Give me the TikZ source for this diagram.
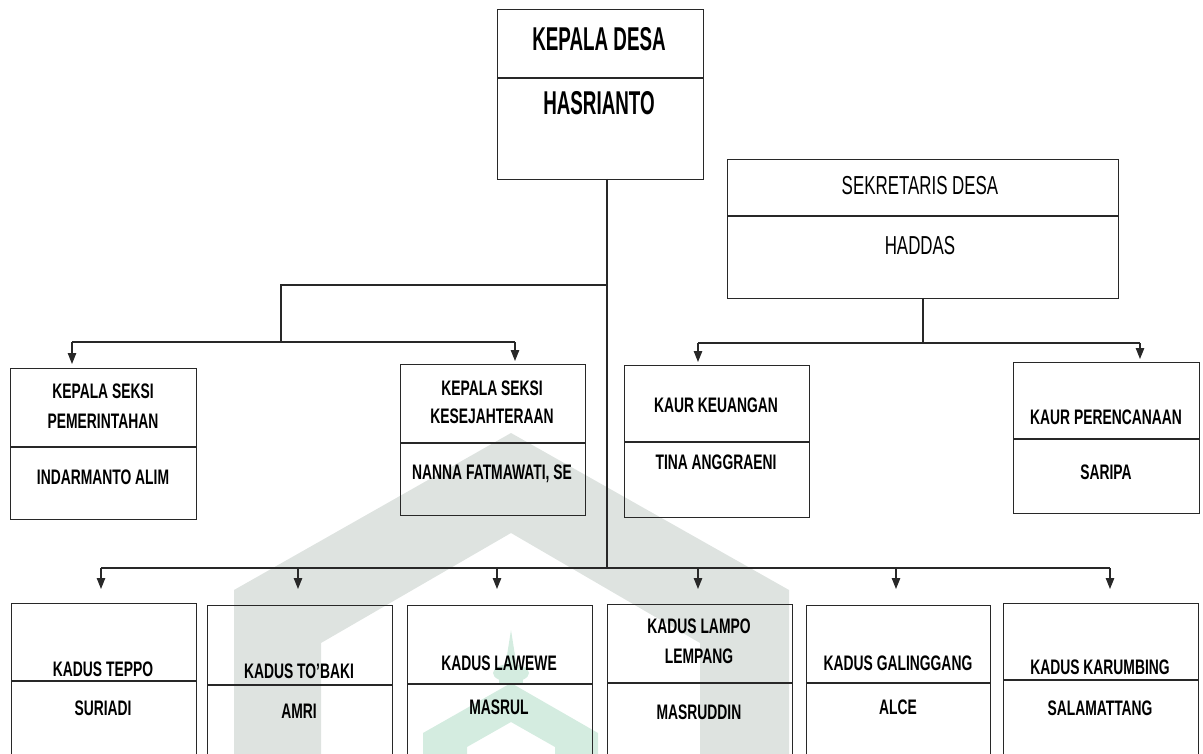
\documentclass[tikz,border=0pt]{standalone}
\usepackage{fontspec}
\newfontfamily\cond[FakeStretch=0.66]{Liberation Sans}
\newfontfamily\condbig[FakeStretch=0.57]{Liberation Sans}
\newfontfamily\condreg[FakeStretch=0.65]{Liberation Sans}
\usetikzlibrary{arrows.meta}
\definecolor{wmgray}{RGB}{222,227,224}
\definecolor{wmgreen}{RGB}{212,236,224}
\definecolor{ln}{RGB}{40,40,40}
\begin{document}
\begin{tikzpicture}[x=1pt,y=-1pt,
  box/.style={draw=ln, line width=1.1pt, inner sep=0pt, anchor=north west},
  lbl/.style={font=\cond\bfseries\fontsize{21}{23}\selectfont, text height=15pt, text depth=0pt, inner sep=0pt},
  big/.style={font=\condbig\bfseries\fontsize{33}{36}\selectfont, text height=23.6pt, text depth=0pt, inner sep=0pt},
  reg/.style={font=\condreg\fontsize{26}{28}\selectfont, text height=18.6pt, text depth=0pt, inner sep=0pt},
  conn/.style={draw=ln, line width=1.1pt},
  arr/.style={conn, -{Triangle[length=11pt,width=8.5pt]}},
  divider/.style={draw=ln, line width=1.1pt}
]
\useasboundingbox (0,0) rectangle (1203,754);
\clip (0,0) rectangle (1203,754);

% watermark
\fill[wmgray] (234,760) -- (234,590) -- (511,433) -- (789,590) -- (789,760) -- (700,760)
  -- (700,643) -- (511,533) -- (321,643) -- (321,760) -- cycle;
\fill[wmgreen] (423,760) -- (423,733) -- (511,683) -- (598,733) -- (598,760) -- (555,760)
  -- (555,747) -- (511,722) -- (467,747) -- (467,760) -- cycle;
\fill[wmgreen] (511,673) ellipse [x radius=18, y radius=9];
\fill[wmgreen] (505,668) -- (511,630) -- (517,668) -- cycle;
\fill[wmgreen] (499,673) rectangle (523,684);

% boxes
\node[box, minimum width=206pt, minimum height=170pt] (kd) at (497,9) {};
\node[box, minimum width=391pt, minimum height=139pt] (sd) at (727,159) {};
\node[box, minimum width=186pt, minimum height=151pt] (ksp) at (10,368) {};
\node[box, minimum width=185pt, minimum height=151pt] (kss) at (400,364) {};
\node[box, minimum width=185pt, minimum height=152pt] (kk) at (624,365) {};
\node[box, minimum width=186pt, minimum height=151pt] (kp) at (1013,362) {};
\node[box, minimum width=185pt, minimum height=200pt] (d1) at (11,603) {};
\node[box, minimum width=185pt, minimum height=200pt] (d2) at (207,605) {};
\node[box, minimum width=185pt, minimum height=200pt] (d3) at (407,605) {};
\node[box, minimum width=185pt, minimum height=200pt] (d4) at (607,604) {};
\node[box, minimum width=184pt, minimum height=200pt] (d5) at (806,605) {};
\node[box, minimum width=195pt, minimum height=200pt] (d6) at (1003,603) {};

% dividers
\draw[divider] (kd.west |- 0,78) -- (kd.east |- 0,78);
\draw[divider] (sd.west |- 0,216) -- (sd.east |- 0,216);
\draw[divider] (ksp.west |- 0,447) -- (ksp.east |- 0,447);
\draw[divider] (kss.west |- 0,443) -- (kss.east |- 0,443);
\draw[divider] (kk.west |- 0,442) -- (kk.east |- 0,442);
\draw[divider] (kp.west |- 0,439) -- (kp.east |- 0,439);
\draw[divider] (d1.west |- 0,681) -- (d1.east |- 0,681);
\draw[divider] (d2.west |- 0,685) -- (d2.east |- 0,685);
\draw[divider] (d3.west |- 0,684) -- (d3.east |- 0,684);
\draw[divider] (d4.west |- 0,683) -- (d4.east |- 0,683);
\draw[divider] (d5.west |- 0,683) -- (d5.east |- 0,683);
\draw[divider] (d6.west |- 0,680) -- (d6.east |- 0,680);

% texts
\node[big] (kdt1) at (599,39) {KEPALA DESA};
\node[big] (kdt2) at (599,103) {HASRIANTO};
\node[reg] (sdt1) at (920,185) {SEKRETARIS DESA};
\node[reg] (sdt2) at (920,245) {HADDAS};
\node[lbl] (kspt1) at (103,391) {KEPALA SEKSI};
\node[lbl] (kspt2) at (103,421) {PEMERINTAHAN};
\node[lbl] (kspt3) at (103,477) {INDARMANTO ALIM};
\node[lbl] (ksst1) at (492,388) {KEPALA SEKSI};
\node[lbl] (ksst2) at (492,416) {KESEJAHTERAAN};
\node[lbl] (ksst3) at (492,472) {NANNA FATMAWATI, SE};
\node[lbl] (kkt1) at (716,405) {KAUR KEUANGAN};
\node[lbl] (kkt2) at (716,462) {TINA ANGGRAENI};
\node[lbl] (kpt1) at (1106,417) {KAUR PERENCANAAN};
\node[lbl] (kpt2) at (1106,472) {SARIPA};
\node[lbl] (d1t1) at (103,669) {KADUS TEPPO};
\node[lbl] (d1t2) at (103,708) {SURIADI};
\node[lbl] (d2t1) at (299,671) {KADUS TO’BAKI};
\node[lbl] (d2t2) at (299,711) {AMRI};
\node[lbl] (d3t1) at (499,663) {KADUS LAWEWE};
\node[lbl] (d3t2) at (499,707) {MASRUL};
\node[lbl] (d4t1) at (699,626) {KADUS LAMPO};
\node[lbl] (d4t2) at (699,656) {LEMPANG};
\node[lbl] (d4t3) at (699,712) {MASRUDDIN};
\node[lbl] (d5t1) at (898,663) {KADUS GALINGGANG};
\node[lbl] (d5t2) at (898,707) {ALCE};
\node[lbl] (d6t1) at (1100,667) {KADUS KARUMBING};
\node[lbl] (d6t2) at (1100,708) {SALAMATTANG};

% connector points
\coordinate (m0) at (607,179);
\coordinate (m1) at (607,285);
\coordinate (m2) at (607,568);
\coordinate (b1) at (281,285);
\coordinate (b2) at (281,342);
\coordinate (l1) at (72,342);
\coordinate (l2) at (515,342);
\coordinate (s0) at (923,298);
\coordinate (s1) at (923,343);
\coordinate (r1) at (698,343);
\coordinate (r2) at (1140,343);
\coordinate (q1) at (101,568);
\coordinate (q2) at (298,568);
\coordinate (q3) at (497,568);
\coordinate (q4) at (698,568);
\coordinate (q5) at (896,568);
\coordinate (q6) at (1110,568);

% connectors
\draw[conn] (m0) -- (m2);
\draw[conn] (m1) -- (b1) -- (b2);
\draw[conn] (l1) -- (l2);
\draw[arr, shorten >=4pt] (l1) -- (l1 |- ksp.north);
\draw[arr, shorten >=3pt] (l2) -- (l2 |- kss.north);
\draw[conn] (s0) -- (s1);
\draw[conn] (r1) -- (r2);
\draw[arr, shorten >=3pt] (r1) -- (r1 |- kk.north);
\draw[arr, shorten >=3pt] (r2) -- (r2 |- kp.north);
\draw[conn] (q1) -- (q6);
\draw[arr, shorten >=14pt] (q1) -- (q1 |- d1.north);
\draw[arr, shorten >=16pt] (q2) -- (q2 |- d2.north);
\draw[arr, shorten >=16pt] (q3) -- (q3 |- d3.north);
\draw[arr, shorten >=15pt] (q4) -- (q4 |- d4.north);
\draw[arr, shorten >=16pt] (q5) -- (q5 |- d5.north);
\draw[arr, shorten >=14pt] (q6) -- (q6 |- d6.north);
\end{tikzpicture}
\end{document}
